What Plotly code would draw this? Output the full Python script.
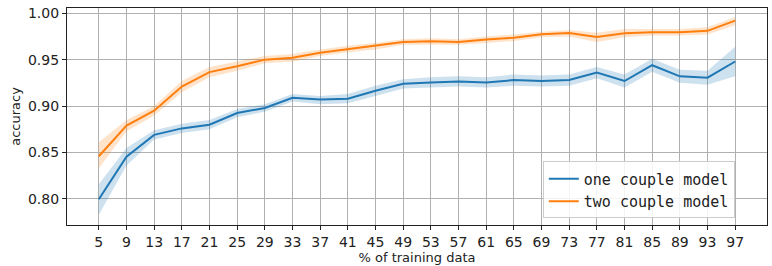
import plotly.graph_objects as go

pct = [5, 9, 13, 17, 21, 25, 29, 33, 37, 41, 45, 49, 53, 57, 61, 65, 69, 73, 77, 81, 85, 89, 93, 97]
tick_labels = [str(v) for v in pct]

one_mean = [0.7997, 0.8455, 0.869, 0.876, 0.880, 0.8925, 0.898, 0.909, 0.907, 0.908, 0.9165, 0.924,
            0.9255, 0.9265, 0.9255, 0.928, 0.927, 0.928, 0.936, 0.927, 0.944, 0.932, 0.9306, 0.948]
one_lo = [0.783, 0.836, 0.864, 0.871, 0.875, 0.888, 0.894, 0.905, 0.902, 0.903, 0.911, 0.919,
          0.920, 0.921, 0.920, 0.922, 0.921, 0.922, 0.930, 0.920, 0.937, 0.925, 0.923, 0.932]
one_hi = [0.816, 0.855, 0.874, 0.881, 0.885, 0.897, 0.902, 0.913, 0.911, 0.913, 0.922, 0.929,
          0.931, 0.932, 0.931, 0.934, 0.933, 0.934, 0.942, 0.934, 0.951, 0.939, 0.938, 0.964]

two_mean = [0.846, 0.879, 0.895, 0.921, 0.9366, 0.9428, 0.950, 0.952, 0.9575, 0.9614, 0.9647, 0.969,
            0.9697, 0.969, 0.9716, 0.9737, 0.9773, 0.9787, 0.9744, 0.9785, 0.9795, 0.9795, 0.981, 0.992]
two_lo = [0.833, 0.873, 0.890, 0.915, 0.931, 0.938, 0.946, 0.948, 0.954, 0.958, 0.961, 0.966,
          0.966, 0.966, 0.968, 0.970, 0.974, 0.975, 0.969, 0.974, 0.976, 0.976, 0.977, 0.987]
two_hi = [0.861, 0.885, 0.900, 0.927, 0.942, 0.948, 0.954, 0.956, 0.961, 0.965, 0.968, 0.972,
          0.973, 0.972, 0.975, 0.977, 0.980, 0.982, 0.979, 0.983, 0.983, 0.983, 0.985, 0.996]

series_names = ["one couple model", "two couple model"]
colors = ["#1f77b4", "#ff7f0e"]
band_colors = ["rgba(31,119,180,0.22)", "rgba(255,127,14,0.22)"]

fig = go.Figure()
for lo, hi, bc in [(one_lo, one_hi, band_colors[0]), (two_lo, two_hi, band_colors[1])]:
    fig.add_trace(go.Scatter(x=pct, y=hi, mode="lines", line=dict(width=0), showlegend=False, hoverinfo="skip"))
    fig.add_trace(go.Scatter(x=pct, y=lo, mode="lines", line=dict(width=0), fill="tonexty",
                             fillcolor=bc, showlegend=False, hoverinfo="skip"))
for name, ys, c in [(series_names[0], one_mean, colors[0]), (series_names[1], two_mean, colors[1])]:
    fig.add_trace(go.Scatter(x=pct, y=ys, mode="lines", name=name, line=dict(color=c, width=2)))

axis_common = dict(
    showline=True, linecolor="#222", linewidth=1.2, mirror=True,
    showgrid=True, gridcolor="#b0b0b0", gridwidth=1,
    ticks="outside", ticklen=4, tickcolor="#222",
    tickfont=dict(family="DejaVu Sans", size=14, color="#222"),
    zeroline=False,
)

fig.update_layout(
    width=772, height=266,
    margin=dict(l=67, r=5, t=8, b=41),
    paper_bgcolor="white", plot_bgcolor="white",
    xaxis=dict(range=[0.4, 101.6], tickmode="array", tickvals=pct, ticktext=tick_labels,
               title=dict(text="% of training data", font=dict(family="DejaVu Sans", size=13, color="#222"), standoff=2),
               **axis_common),
    yaxis=dict(range=[0.772, 1.0056], tickmode="array",
               tickvals=[0.80, 0.85, 0.90, 0.95, 1.00],
               ticktext=["0.80", "0.85", "0.90", "0.95", "1.00"],
               title=dict(text="accuracy", font=dict(family="DejaVu Sans", size=13, color="#222"), standoff=4),
               **axis_common),
    legend=dict(x=0.954, y=0.03, xanchor="right", yanchor="bottom",
                traceorder="normal",
                bgcolor="rgba(255,255,255,0.85)", bordercolor="#cccccc", borderwidth=1,
                font=dict(family="DejaVu Sans Mono", size=15, color="#222"),
                tracegroupgap=0),
    showlegend=True,
)

fig.write_html("out.html")
